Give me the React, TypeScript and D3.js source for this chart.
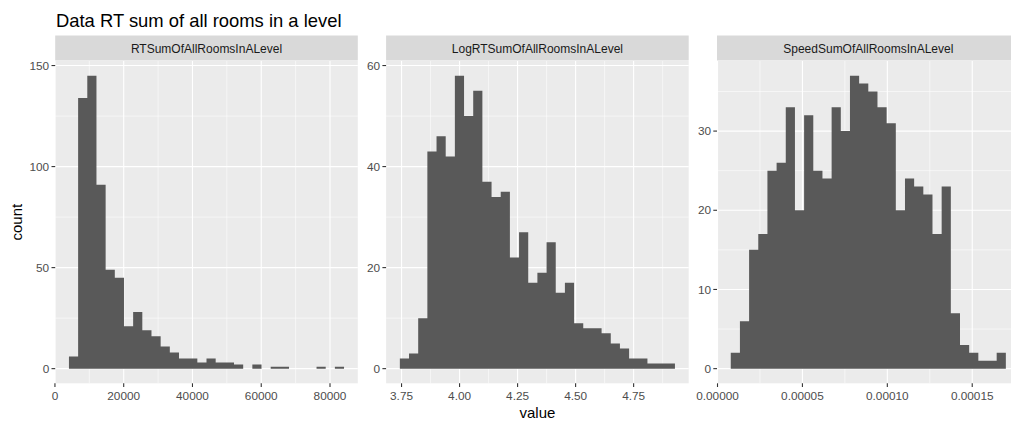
import * as d3 from "d3";

// facet names
const facetNames = [
  "RTSumOfAllRoomsInALevel",
  "LogRTSumOfAllRoomsInALevel",
  "SpeedSumOfAllRoomsInALevel",
];

// histogram counts (30 bins each)
const rtCounts = [
  6, 134, 145, 91, 49, 45, 21, 28, 19, 16, 11, 8, 5, 5, 3, 5, 3, 3, 2, 0, 2, 0,
  1, 1, 0, 0, 0, 1, 0, 1,
];
const rtRange = [4077, 84083];

const logCounts = [
  2, 3, 10, 43, 46, 42, 58, 50, 55, 37, 34, 35, 22, 27, 17, 19, 25, 15, 17, 9,
  8, 8, 7, 5, 4, 2, 2, 1, 1, 1,
];
const logRange = [3.7427, 4.928];

const speedCounts = [
  2, 6, 15, 17, 25, 26, 33, 20, 32, 25, 24, 33, 30, 37, 36, 35, 33, 31, 20, 24,
  23, 22, 17, 23, 7, 3, 2, 1, 1, 2,
];
const speedRange = [0.0000078, 0.0001698];

// axis breaks
const rtXTicks = [0, 20000, 40000, 60000, 80000];
const rtXLabels = ["0", "20000", "40000", "60000", "80000"];
const rtYTicks = [0, 50, 100, 150];

const logXTicks = [3.75, 4.0, 4.25, 4.5, 4.75];
const logXLabels = ["3.75", "4.00", "4.25", "4.50", "4.75"];
const logYTicks = [0, 20, 40, 60];

const speedXTicks = [0, 0.00005, 0.0001, 0.00015];
const speedXLabels = ["0.00000", "0.00005", "0.00010", "0.00015"];
const speedYTicks = [0, 10, 20, 30];

const facets = [
  { name: facetNames[0], counts: rtCounts, range: rtRange, xTicks: rtXTicks, xLabels: rtXLabels, yTicks: rtYTicks },
  { name: facetNames[1], counts: logCounts, range: logRange, xTicks: logXTicks, xLabels: logXLabels, yTicks: logYTicks },
  { name: facetNames[2], counts: speedCounts, range: speedRange, xTicks: speedXTicks, xLabels: speedXLabels, yTicks: speedYTicks },
];

const W = 1011;
const H = 425;
const panelTop = 61;
const panelBottom = 383.3;
const stripTop = 35.5;
const panelW = 302.6;
const panelLefts = [55.2, 386.1, 717.0];
const FONT = "'Liberation Sans', Arial, Helvetica, sans-serif";

function minorBreaks(major: number[], domain: number[]) {
  const step = major[1] - major[0];
  const out: number[] = [];
  for (let v = major[0] - step / 2; v <= major[major.length - 1] + step / 2 + 1e-12; v += step) {
    if (v >= domain[0] && v <= domain[1]) out.push(v);
  }
  return out;
}

function Facet({ f, left }: { f: (typeof facets)[number]; left: number }) {
  const n = f.counts.length;
  const bw = (f.range[1] - f.range[0]) / n;
  const ext = (f.range[1] - f.range[0]) * 0.05;
  const xDomain = [f.range[0] - ext, f.range[1] + ext];
  const x = d3.scaleLinear().domain(xDomain).range([left, left + panelW]);
  const maxC = d3.max(f.counts) ?? 1;
  const yDomain = [-maxC * 0.05, maxC * 1.05];
  const y = d3.scaleLinear().domain(yDomain).range([panelBottom, panelTop]);

  const xMinor = minorBreaks(f.xTicks, xDomain);
  const yMinor = minorBreaks(f.yTicks, yDomain);

  // one outline path for the bars so neighbouring bins don't show seams
  const area = d3
    .area<number>()
    .x((_, i) => x(f.range[0] + Math.floor((i + 1) / 2) * bw))
    .y0(y(0))
    .y1((c) => y(c));
  const steps: number[] = [];
  f.counts.forEach((c) => {
    steps.push(c, c);
  });

  return (
    <g>
      {/* strip */}
      <rect x={left} y={stripTop} width={panelW} height={panelTop - stripTop - 0.5} fill="#D9D9D9" />
      <text x={left + panelW / 2} y={52.5} textAnchor="middle" fontSize={12} fill="#1A1A1A">
        {f.name}
      </text>

      {/* panel */}
      <rect x={left} y={panelTop} width={panelW} height={panelBottom - panelTop} fill="#EBEBEB" />
      {xMinor.map((v) => (
        <line key={"xm" + v} x1={x(v)} x2={x(v)} y1={panelTop} y2={panelBottom} stroke="#fff" strokeWidth={0.55} />
      ))}
      {yMinor.map((v) => (
        <line key={"ym" + v} x1={left} x2={left + panelW} y1={y(v)} y2={y(v)} stroke="#fff" strokeWidth={0.55} />
      ))}
      {f.xTicks.map((v) => (
        <line key={"xM" + v} x1={x(v)} x2={x(v)} y1={panelTop} y2={panelBottom} stroke="#fff" strokeWidth={1.1} />
      ))}
      {f.yTicks.map((v) => (
        <line key={"yM" + v} x1={left} x2={left + panelW} y1={y(v)} y2={y(v)} stroke="#fff" strokeWidth={1.1} />
      ))}

      {/* bars */}
      <path d={area(steps) ?? ""} fill="#595959" />

      {/* x axis */}
      {f.xTicks.map((v, i) => (
        <g key={"xt" + v}>
          <line x1={x(v)} x2={x(v)} y1={panelBottom} y2={panelBottom + 3.7} stroke="#333333" strokeWidth={1.1} />
          <text x={x(v)} y={400} textAnchor="middle" fontSize={11.8} fill="#4D4D4D">
            {f.xLabels[i]}
          </text>
        </g>
      ))}

      {/* y axis */}
      {f.yTicks.map((v) => (
        <g key={"yt" + v}>
          <line x1={left - 3.7} x2={left} y1={y(v)} y2={y(v)} stroke="#333333" strokeWidth={1.1} />
          <text x={left - 6} y={y(v) + 4.2} textAnchor="end" fontSize={11.8} fill="#4D4D4D">
            {v}
          </text>
        </g>
      ))}
    </g>
  );
}

export default function App() {
  return (
    <div style={{ position: "absolute", left: 0, top: 0, width: W, height: H, background: "#fff" }}>
      <svg width={W} height={H} style={{ display: "block", fontFamily: FONT }}>
        <rect width={W} height={H} fill="#fff" />
        <text x={56} y={27} fontSize={18.4} fill="#000">
          Data RT sum of all rooms in a level
        </text>
        {facets.map((f, i) => (
          <Facet key={f.name} f={f} left={panelLefts[i]} />
        ))}
        <text
          transform={`translate(21.5,${(panelTop + panelBottom) / 2}) rotate(-90)`}
          textAnchor="middle"
          fontSize={15}
          fill="#000"
        >
          count
        </text>
        <text x={(panelLefts[0] + panelLefts[2] + panelW) / 2} y={418} textAnchor="middle" fontSize={15} fill="#000">
          value
        </text>
      </svg>
    </div>
  );
}
